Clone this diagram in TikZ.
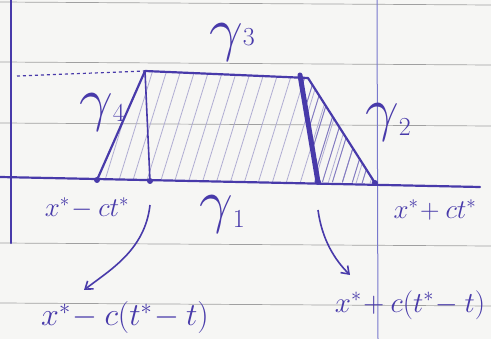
\documentclass[tikz,border=0pt]{standalone}
\usepackage{fix-cm}
\usetikzlibrary{arrows.meta}
\definecolor{ink}{RGB}{72,58,170}
\definecolor{paper}{RGB}{246,246,244}
\definecolor{rule}{RGB}{160,160,160}
\definecolor{margin}{RGB}{120,120,205}
\definecolor{hatch}{RGB}{175,172,210}
\newcommand{\gmlabel}[2]{{\fontsize{60}{60}\selectfont$\gamma$}\raisebox{#2}{\fontsize{26}{26}\selectfont$#1$}}
\tikzset{
  inkline/.style={draw=ink, line width=2.2pt, line cap=round, line join=round},
  thinink/.style={draw=ink, line width=1.6pt, line cap=round},
  lbl/.style={text=ink, inner sep=0pt},
  dotpt/.style={circle, fill=ink, inner sep=0pt, minimum size=6pt},
  arr/.style={draw=ink, line width=1.6pt, -{Straight Barb[length=7pt,width=10pt]}},
}
\begin{document}
\begin{tikzpicture}[x=1pt,y=-1pt]
\useasboundingbox (0,0) rectangle (491,339);
\fill[paper] (0,0) rectangle (491,339);
% ruled lines
\foreach \yy in {2,62,123,243,303}
  \draw[rule, line width=0.7pt] (0,\yy) -- (491,\yy+3);
% margin line
\draw[margin, line width=1pt] (377,0) -- (378,339);
% left vertical
\draw[inkline] (11,0) -- (11,243);
% coordinates
\coordinate (A) at (97,180);
\coordinate (B) at (145,71);
\coordinate (C) at (300,75);
\coordinate (D) at (308,78);
\coordinate (E) at (375,183);
\coordinate (F) at (150,181);
\coordinate (G) at (318,182);
% hatching
\begin{scope}
  \clip (A) -- (B) -- (D) -- (E) -- cycle;
  \foreach \s in {0,14,...,360}
    \draw[hatch, line width=0.8pt] (60+\s,190) -- (100+\s,60);
  \clip (C) -- (D) -- (E) -- (G) -- cycle;
  \foreach \s in {0,10,...,120}
    \draw[hatch!60!ink, line width=1pt] (250+\s,190) -- (290+\s,60);
\end{scope}
% axis
\draw[inkline] (0,177) -- (480,187);
% trapezoid
\draw[inkline] (A) -- (B) -- (D) -- (E);
\draw[thinink] (B) -- (F);
\draw[draw=ink, line width=5pt, line cap=round] (C) -- (G);
% dashed
\draw[draw=ink, line width=1.2pt, dashed] (17,76) -- (B);
% dots
\foreach \p in {A,F,G,E} \node[dotpt] at (\p) {};
% labels
\node[lbl] (g3) at (232,42) {\gmlabel{3}{4pt}};
\node[lbl] (g4) at (102,112) {\gmlabel{4}{-2pt}};
\node[lbl] (g2) at (388,122) {\gmlabel{2}{-6pt}};
\node[lbl] (g1) at (222,214) {\gmlabel{1}{-6pt}};
\node[lbl, font=\fontsize{27}{28}\selectfont] (l1) at (87,208) {$x^{*}\!-ct^{*}$};
\node[lbl, font=\fontsize{27}{28}\selectfont] (l2) at (435,210) {$x^{*}\!+ct^{*}$};
\node[lbl, font=\fontsize{32}{34}\selectfont] (l3) at (125,318) {$x^{*}\!-c(t^{*}\!-t)$};
\node[lbl, font=\fontsize{29}{30}\selectfont] (l4) at (410,305) {$x^{*}\!+c(t^{*}\!-t)$};
% arrows
\coordinate (s1) at (150,205);
\coordinate (s2) at (318,210);
\draw[arr] (s1) .. controls (145,250) and (110,270) .. (84,290);
\draw[arr] (s2) .. controls (322,240) and (335,260) .. (350,275);
\end{tikzpicture}
\end{document}
